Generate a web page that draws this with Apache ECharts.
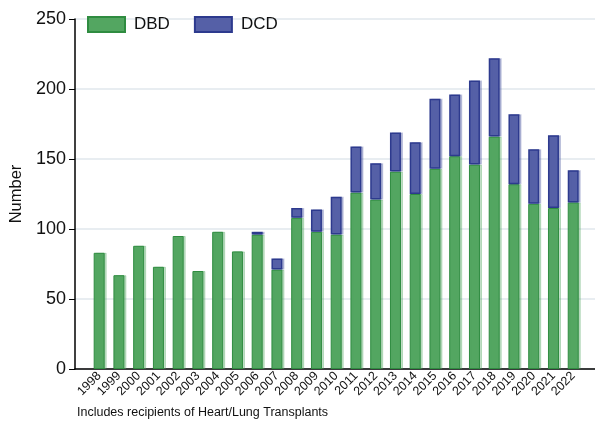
<!DOCTYPE html>
<html>
<head>
<meta charset="utf-8">
<script src="https://cdn.jsdelivr.net/npm/echarts@6/dist/echarts.min.js"></script>
<style>
html,body{margin:0;padding:0;background:#fff;}
#chart{width:595px;height:427px;}
</style>
</head>
<body>
<div id="chart"></div>
<script>
var years = ['1998','1999','2000','2001','2002','2003','2004','2005','2006','2007','2008','2009','2010','2011','2012','2013','2014','2015','2016','2017','2018','2019','2020','2021','2022'];
var dbd = [83,67,88,73,95,70,98,84,96,71,108,98,96,126,121,141,125,143,152,146,166,132,118,115,119];
var dcd = [0,0,0,0,0,0,0,0,2,8,7,16,27,33,26,28,37,50,44,60,56,50,39,52,23];
var yTicks = [0,50,100,150,200,250];

var FONT = '"Liberation Sans", Arial, sans-serif';
var chart = echarts.init(document.getElementById('chart'), null, {renderer:'canvas'});
chart.setOption({
  animation:false,
  backgroundColor:'#fff',
  textStyle:{fontFamily:FONT},
  legend:{
    left:87, top:16, padding:0, itemWidth:37, itemHeight:15, itemGap:24, icon:'rect',
    textStyle:{fontSize:17, color:'#111', fontFamily:FONT, padding:[0,0,0,4]},
    data:['DBD','DCD']
  },
  grid:[
    {left:75, right:0, top:19, bottom:58},
    {left:89.3, right:11.9, top:19, bottom:58}
  ],
  xAxis:[
    {type:'value', gridIndex:0, min:0, max:1, axisLine:{show:true, lineStyle:{color:'#000', width:1.5}},
     axisTick:{show:false}, axisLabel:{show:false}, splitLine:{show:false}},
    {type:'category', gridIndex:1, data:years, axisLine:{show:false}, axisTick:{show:false},
     axisLabel:{rotate:45, fontSize:12.5, color:'#111', margin:5, interval:0, fontFamily:FONT}}
  ],
  yAxis:[
    {type:'value', gridIndex:0, min:yTicks[0], max:yTicks[yTicks.length-1], interval:50,
     name:'Number', nameLocation:'middle', nameGap:50, nameRotate:90,
     nameTextStyle:{fontSize:16.5, color:'#111', fontFamily:FONT},
     axisLine:{show:true, lineStyle:{color:'#000', width:1.5}},
     axisTick:{show:true, length:6, lineStyle:{color:'#000', width:1}},
     axisLabel:{fontSize:18, color:'#111', margin:9, fontFamily:FONT},
     splitLine:{show:true, lineStyle:{color:'#e8edf1', width:2}}},
    {type:'value', gridIndex:1, min:0, max:250, show:false, splitLine:{show:false}}
  ],
  series:[
    {name:'DBD', type:'bar', stack:'t', xAxisIndex:1, yAxisIndex:1, barWidth:11,
     data:dbd.map(function(v){return v===0?null:v;}),
     itemStyle:{color:'#53a661', borderColor:'#2f8c40', borderWidth:1,
       shadowColor:'rgba(83,166,97,0.35)', shadowOffsetX:2, shadowBlur:0}},
    {name:'DCD', type:'bar', stack:'t', xAxisIndex:1, yAxisIndex:1, barWidth:11,
     data:dcd.map(function(v){return v===0?null:v;}),
     itemStyle:{color:'#5560a7', borderColor:'#2d3a8e', borderWidth:1.5,
       shadowColor:'rgba(85,96,167,0.35)', shadowOffsetX:2, shadowBlur:0}}
  ],
  graphic:[
    {type:'text', left:77, top:406, style:{text:'Includes recipients of Heart/Lung Transplants', fill:'#111', font:'12.5px "Liberation Sans", Arial, sans-serif'}}
  ]
});
</script>
</body>
</html>
